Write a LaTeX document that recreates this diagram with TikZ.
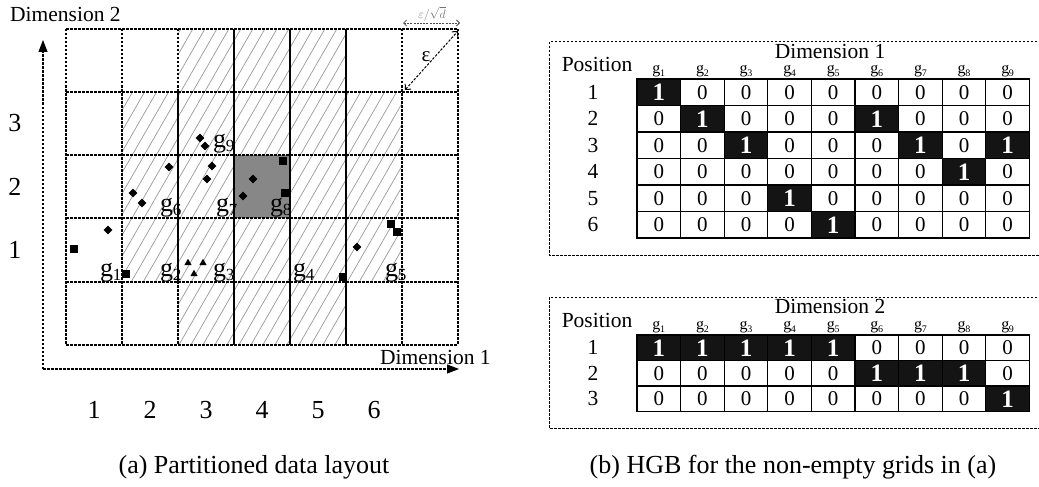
\documentclass[tikz,border=0pt]{standalone}
\usepackage{fontspec}
\setmainfont{Liberation Serif}
\usetikzlibrary{arrows.meta,shapes.geometric}
% grid label: g with a lowered index
\newcommand{\gsubs}[2]{g\kern-0.3pt\raisebox{-0.18em}{\fontsize{#2}{#2}\selectfont #1}}
\begin{document}
\begin{tikzpicture}[x=1pt,y=-1pt,
  every node/.style={inner sep=0pt},
  gridln/.style={line width=1.1pt, dash pattern=on 2.5pt off 1.5pt},
  solidln/.style={line width=1.3pt},
  hatchln/.style={black!40, line width=0.7pt},
  axisln/.style={line width=1.1pt, dash pattern=on 2.5pt off 1.5pt},
  frameln/.style={line width=1pt, dash pattern=on 2.5pt off 1.5pt},
  dia/.style={diamond, fill=black, minimum size=9pt},
  sqr/.style={rectangle, fill=black, minimum size=7.5pt},
  tri/.style={regular polygon, regular polygon sides=3, fill=black, minimum size=8.5pt},
  big/.style={font=\fontsize{26}{28}\selectfont},
  mid/.style={font=\fontsize{21.5}{24}\selectfont},
  small/.style={font=\fontsize{16}{18}\selectfont},
  cell0/.style={draw, line width=1.3pt, minimum width=43.6pt, minimum height=26.5pt,
    font=\fontsize{21}{22}\selectfont},
  cell1/.style={cell0, fill=black!92, text=white, font=\fontsize{25}{26}\selectfont\bfseries},
]
\useasboundingbox (0,0) rectangle (1039,487);

% ---------- (a) partitioned data layout ----------
% hatched neighbourhood
\begin{scope}
  \clip (178,29) rectangle (346,345) (122,92) rectangle (402,282);
  \foreach \x in {-100,-88,...,420} \draw[hatchln] (\x,350) -- ++(190,-330);
\end{scope}
% the grid under consideration
\fill[black!47] (234,155) rectangle (290,218);

% grid lines
\foreach \y in {29,92,155,218,282,345} \draw[gridln] (66,\y) -- (458,\y);
\foreach \x in {66,122,178,402,458} \draw[gridln] (\x,29) -- (\x,345);
\foreach \x in {234,290,346} \draw[solidln] (\x,29) -- (\x,345);
\draw[solidln] (178,92) -- (178,282);

% axes
\coordinate (origin) at (43,369);
\coordinate (ytip) at (43,40);
\coordinate (xtip) at (459,369);
\draw[axisln, -{Triangle[length=12pt,width=9pt]}] (origin) -- (ytip);
\draw[axisln, -{Triangle[length=12pt,width=9pt]}] (origin) -- (xtip);
\node[mid, anchor=base west] (dim2) at (10,22) {Dimension 2};
\node[mid, anchor=base west] (dim1) at (380,364) {Dimension 1};

% axis indices
\foreach \v/\y in {3/123.5,2/186.5,1/250} \node[big] (row\v) at (15,\y) {\v};
\foreach \v/\x in {1/94,2/150,3/206,4/262,5/318,6/374} \node[big] (col\v) at (\x,410) {\v};

% epsilon annotations
\coordinate (ea) at (405,90);
\coordinate (eb) at (458,31);
\draw[frameln, {Straight Barb[length=4pt]}-{Straight Barb[length=4pt]}] (ea) -- (eb);
\node[font=\fontsize{21}{21}\selectfont] (eps) at (426,57) {ε};
\coordinate (wa) at (403,23);
\coordinate (wb) at (460,23);
\draw[line width=0.8pt, dash pattern=on 2pt off 1.2pt, black!70,
  {Straight Barb[length=3pt]}-{Straight Barb[length=3pt]}] (wa) -- (wb);
\node[text=black!55, font=\fontsize{11.5}{12}\selectfont] (epsd) at (432,14) {$\varepsilon/\sqrt{d}$};

% data points
\foreach \p [count=\i] in {(200,138),(205,146),(169,167),(212,166),(207,179),(133,193),
    (142,203),(253,179),(243,196),(108,230),(357,247)}
  \node[dia] (d\i) at \p {};
\foreach \p [count=\i] in {(283,161),(285,193),(74,249),(126,274),(391,224),(397,232),(343,277)}
  \node[sqr] (s\i) at \p {};
\foreach \p [count=\i] in {(188,263),(203,263),(194,274)}
  \node[tri] (t\i) at \p {};

% grid names
\foreach \n/\x/\y in {1/100/276,2/160/276,3/213/276,4/293/276,5/385/276,
    6/160/211,7/216/211,8/270/211,9/213/147}
  \node[big, anchor=base west] (g\n) at (\x,\y) {\gsubs{\n}{17}};

\node[big] (capa) at (254,467) {(a) Partitioned data layout};

% ---------- (b) HGB tables ----------
% Dimension 1
\draw[frameln] (1045,42) -- (549,42) -- (549,255) -- (1045,255);
\node[mid] (hd1) at (830,51) {Dimension 1};
\node[mid] (pos1) at (597,64) {Position};
\foreach \c in {1,...,9}
  \node[small] (ha\c) at ({637+(\c-0.5)*43.6},71.5) {\gsubs{\c}{10}};
\foreach \row [count=\r] in {{1,0,0,0,0,0,0,0,0},{0,1,0,0,0,1,0,0,0},{0,0,1,0,0,0,1,0,1},
    {0,0,0,0,0,0,0,1,0},{0,0,0,1,0,0,0,0,0},{0,0,0,0,1,0,0,0,0}} {
  \node[mid] (ra\r) at (593,{79+(\r-0.5)*26.5}) {\r};
  \foreach \v [count=\c] in \row
    \node[cell\v] (a-\r-\c) at ({637+(\c-0.5)*43.6},{79+(\r-0.5)*26.5}) {\v};
}

% Dimension 2
\draw[frameln] (1045,297) -- (549,297) -- (549,428) -- (1045,428);
\node[mid] (hd2) at (830,306) {Dimension 2};
\node[mid] (pos2) at (597,320) {Position};
\foreach \c in {1,...,9}
  \node[small] (hb\c) at ({637+(\c-0.5)*43.6},327.5) {\gsubs{\c}{10}};
\foreach \row [count=\r] in {{1,1,1,1,1,0,0,0,0},{0,0,0,0,0,1,1,1,0},{0,0,0,0,0,0,0,0,1}} {
  \node[mid] (rb\r) at (593,{335+(\r-0.5)*25.5}) {\r};
  \foreach \v [count=\c] in \row
    \node[cell\v, minimum height=25.5pt] (b-\r-\c) at ({637+(\c-0.5)*43.6},{335+(\r-0.5)*25.5}) {\v};
}

\node[big] (capb) at (793,467) {(b) HGB for the non-empty grids in (a)};
\end{tikzpicture}
\end{document}
